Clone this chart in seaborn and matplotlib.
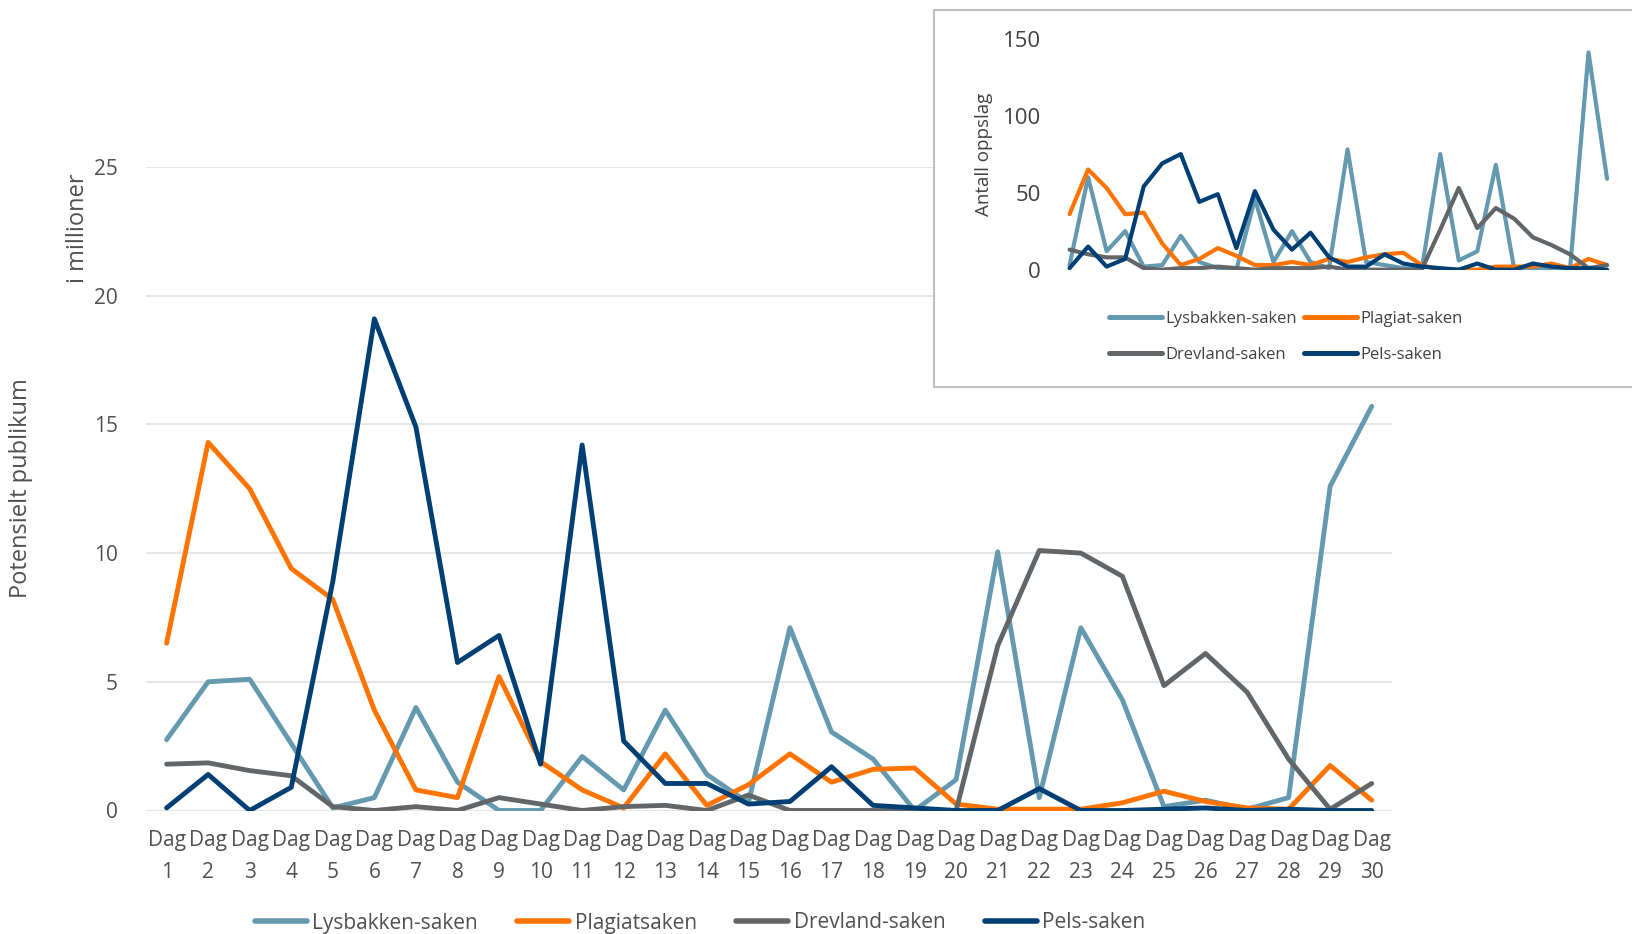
import matplotlib
matplotlib.use("Agg")
import matplotlib.pyplot as plt
import pandas as pd
import seaborn as sns
from matplotlib.lines import Line2D

# Data (main chart: potential audience in millions, per day)
days = list(range(1, 31))
day_labels = [f"Dag\n{d}" for d in days]

lysbakken = [2.75, 5.0, 5.1, 2.6, 0.1, 0.5, 4.0, 1.1, 0.0, 0.0,
             2.1, 0.8, 3.9, 1.4, 0.3, 7.1, 3.05, 2.0, 0.0, 1.2,
             10.05, 0.5, 7.1, 4.3, 0.15, 0.4, 0.05, 0.5, 12.6, 15.7]
plagiat = [6.5, 14.3, 12.5, 9.4, 8.2, 3.9, 0.8, 0.5, 5.2, 1.9,
           0.8, 0.1, 2.2, 0.2, 1.0, 2.2, 1.1, 1.6, 1.65, 0.25,
           0.05, 0.05, 0.05, 0.3, 0.75, 0.35, 0.1, 0.05, 1.75, 0.4]
drevland = [1.8, 1.85, 1.55, 1.35, 0.15, 0.0, 0.15, 0.0, 0.5, 0.25,
            0.0, 0.15, 0.2, 0.0, 0.6, 0.0, 0.0, 0.0, 0.0, 0.0,
            6.4, 10.1, 10.0, 9.1, 4.85, 6.1, 4.6, 2.0, 0.05, 1.05]
pels = [0.1, 1.4, 0.0, 0.9, 8.9, 19.1, 14.9, 5.75, 6.8, 1.8,
        14.2, 2.7, 1.05, 1.05, 0.25, 0.35, 1.7, 0.2, 0.1, 0.0,
        0.0, 0.85, 0.0, 0.0, 0.05, 0.1, 0.0, 0.05, 0.0, 0.0]

# Inset data (number of articles per day)
lys_opps = [3, 60, 12, 25, 2, 3, 22, 5, 1, 0,
            46, 5, 25, 5, 1, 78, 5, 3, 1, 0,
            75, 6, 12, 68, 0, 1, 0, 0, 141, 59]
plag_opps = [36, 65, 53, 36, 37, 17, 3, 7, 14, 9,
             3, 3, 5, 3, 7, 5, 8, 10, 11, 3,
             0, 0, 0, 2, 2, 2, 4, 1, 7, 3]
drev_opps = [13, 10, 8, 8, 1, 0, 1, 1, 2, 1,
             0, 1, 1, 1, 2, 0, 0, 0, 0, 0,
             26, 53, 27, 40, 33, 21, 16, 10, 1, 3]
pels_opps = [1, 15, 2, 7, 54, 69, 75, 44, 49, 14,
             51, 26, 13, 24, 8, 2, 2, 10, 4, 2,
             1, 0, 4, 0, 0, 4, 2, 1, 1, 0]

main_names = ["Lysbakken-saken", "Plagiatsaken", "Drevland-saken", "Pels-saken"]
inset_names = ["Lysbakken-saken", "Plagiat-saken", "Drevland-saken", "Pels-saken"]
colors = ["#6499B0", "#FF7300", "#636668", "#003F73"]
text_col = "#505050"

idx = list(range(len(days)))
df_main = pd.concat([
    pd.DataFrame({"x": idx, "value": vals, "sak": name})
    for name, vals in zip(main_names, [lysbakken, plagiat, drevland, pels])
])
df_inset = pd.concat([
    pd.DataFrame({"x": idx, "value": vals, "sak": name})
    for name, vals in zip(inset_names, [lys_opps, plag_opps, drev_opps, pels_opps])
])

sns.set_style("white")
plt.rcParams["font.family"] = ["Open Sans", "DejaVu Sans"]

W, H = 1633, 934
fig = plt.figure(figsize=(W / 100, H / 100), dpi=100)

# Main chart
ax = fig.add_axes([145.8 / W, 1 - 810.5 / H, (1392.5 - 145.8) / W, (810.5 - 167) / H])
sns.lineplot(data=df_main, x="x", y="value", hue="sak", palette=colors,
             linewidth=3.5, legend=False, sort=False, ax=ax)
ax.set_xlim(-0.5, len(days) - 0.5)
ax.set_ylim(0, 25)
ax.set_yticks([0, 5, 10, 15, 20, 25])
ax.set_xticks(idx)
ax.set_xticklabels(day_labels, linespacing=1.68)
ax.tick_params(axis="x", length=0, pad=14, labelsize=15, labelcolor=text_col)
ax.tick_params(axis="y", length=0, pad=20, labelsize=15, labelcolor=text_col)
ax.yaxis.grid(True, color="#E6E6E6", linewidth=1.5)
ax.set_axisbelow(True)
ax.set_xlabel("")
ax.set_ylabel("")
sns.despine(ax=ax, left=True, bottom=True)

fig.text(21 / W, 1 - 488 / H, "Potensielt publikum", rotation=90,
         ha="center", va="center", fontsize=17, color=text_col)
fig.text(78 / W, 1 - 228 / H, "i millioner", rotation=90,
         ha="center", va="center", fontsize=17, color=text_col)

handles = [Line2D([0], [0], color=c, linewidth=4) for c in colors]
fig.legend(handles, main_names, loc="center", bbox_to_anchor=(700 / W, 1 - 923 / H),
           ncol=4, frameon=False, fontsize=15, handlelength=2.5, handletextpad=0.25,
           columnspacing=1.9, labelcolor=text_col)

# Inset box
box = fig.add_axes([934 / W, 1 - 387.4 / H, (W - 934) / W + 0.01, (387.4 - 10.4) / H])
box.set_xticks([])
box.set_yticks([])
box.set_facecolor("white")
for s in box.spines.values():
    s.set_color("#BFBFBF")
    s.set_linewidth(1.5)
box.set_zorder(2)

# Inset chart
ins = fig.add_axes([1060.3 / W, 1 - 269.7 / H, (1616.3 - 1060.3) / W, (269.7 - 38.5) / H])
ins.set_zorder(3)
ins.patch.set_alpha(0)
sns.lineplot(data=df_inset, x="x", y="value", hue="sak", palette=colors,
             linewidth=3.0, legend=False, sort=False, ax=ins)
ins.set_xlim(-0.5, len(days) - 0.5)
ins.set_ylim(0, 150)
ins.set_yticks([0, 50, 100, 150])
ins.set_xticks([])
ins.tick_params(axis="y", length=0, pad=14, labelsize=16, labelcolor="#404040")
ins.set_xlabel("")
ins.set_ylabel("Antall oppslag", fontsize=13.5, color="#404040", labelpad=7)
sns.despine(ax=ins, left=True, bottom=True)

ih = [Line2D([0], [0], color=c, linewidth=3.6) for c in colors]
order = [0, 2, 1, 3]
ins.legend([ih[i] for i in order], [inset_names[i] for i in order],
           loc="center left", bbox_to_anchor=((1094 - 1060.3) / (1616.3 - 1060.3), -0.29),
           ncol=2, frameon=False, fontsize=12, handlelength=3.2, handletextpad=0.2,
           columnspacing=0.4, labelspacing=1.2, labelcolor="#404040")

fig.savefig("out.png", dpi=100)
